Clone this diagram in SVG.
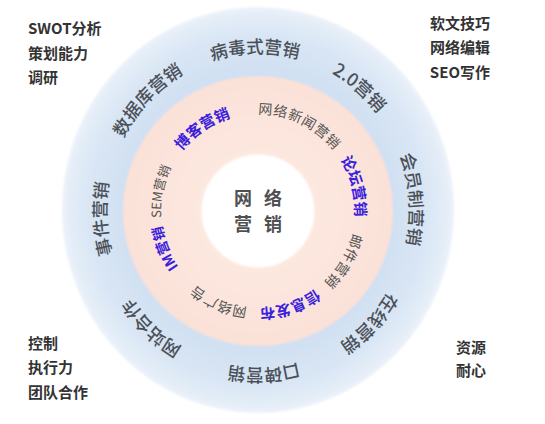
<svg xmlns="http://www.w3.org/2000/svg" width="545" height="424" viewBox="0 0 545 424">
<style>
.corner{font-family:"Noto Sans CJK SC","Liberation Sans",sans-serif;font-size:15px;font-weight:700;fill:#333;}
.outer{font-family:"Noto Sans CJK SC","Liberation Sans",sans-serif;font-size:17.5px;font-weight:500;fill:#4b5058;}
.gray{font-family:"Noto Sans CJK SC","Liberation Sans",sans-serif;font-size:14px;font-weight:400;fill:#555;letter-spacing:0.5px;}
.blue{font-family:"Noto Sans CJK SC","Liberation Sans",sans-serif;font-size:15px;font-weight:700;fill:#3a20dc;}
.center{font-family:"Noto Sans CJK SC","Liberation Sans",sans-serif;font-size:18px;font-weight:700;fill:#505050;letter-spacing:4px;}
</style>
<defs>
<radialGradient id="gBlue" cx="0.5" cy="0.5" r="0.5">
<stop offset="0.6" stop-color="#cddef1"/>
<stop offset="0.85" stop-color="#d8e5f4"/>
<stop offset="0.97" stop-color="#e5eef8"/>
<stop offset="1" stop-color="#eef3fa"/>
</radialGradient>
<radialGradient id="gPink" cx="0.5" cy="0.5" r="0.5">
<stop offset="0.4" stop-color="#fde8e0"/>
<stop offset="1" stop-color="#fbe1d8"/>
</radialGradient>
<filter id="soft" x="-10%" y="-10%" width="120%" height="120%"><feGaussianBlur stdDeviation="1.2"/></filter>
<path id="pOuter" d="M0,-151.5 A151.5,151.5 0 1 1 0,151.5 A151.5,151.5 0 1 1 0,-151.5 A151.5,151.5 0 1 1 0,151.5 A151.5,151.5 0 1 1 0,-151.5"/>
<path id="pInner" d="M0,-97 A97,97 0 1 1 0,97 A97,97 0 1 1 0,-97 A97,97 0 1 1 0,97 A97,97 0 1 1 0,-97"/>
</defs>
<rect width="545" height="424" fill="#ffffff"/>
<g id="rings">
<ellipse cx="258" cy="210" rx="196" ry="203" fill="url(#gBlue)" filter="url(#soft)"/>
<circle cx="258" cy="211" r="135" fill="url(#gPink)" filter="url(#soft)"/>
<circle cx="258" cy="211" r="56.5" fill="#ffffff" filter="url(#soft)"/>
</g>
<g id="connectors"/>
<g id="center-node">
<text class="center" x="260" y="205" text-anchor="middle">网 络</text>
<text class="center" x="260" y="230.5" text-anchor="middle">营 销</text>
</g>
<g id="outer-ring" transform="translate(258,211) scale(1,1.04)">
<g id="n-bingdu"><text class="outer" text-anchor="middle"><textPath href="#pOuter" startOffset="948.5">病毒式营销</textPath></text></g>
<g id="n-20"><text class="outer" text-anchor="middle"><textPath href="#pOuter" startOffset="1058.7">2.0营销</textPath></text></g>
<g id="n-huiyuan"><text class="outer" text-anchor="middle"><textPath href="#pOuter" startOffset="1178.3">会员制营销</textPath></text></g>
<g id="n-zaixian"><text class="outer" text-anchor="middle"><textPath href="#pOuter" startOffset="1306">在线营销</textPath></text></g>
<g id="n-koubei"><text class="outer" text-anchor="middle"><textPath href="#pOuter" startOffset="1421.5">口碑营销</textPath></text></g>
<g id="n-wangzhan"><text class="outer" text-anchor="middle"><textPath href="#pOuter" startOffset="1541.8">网站合作</textPath></text></g>
<g id="n-shijian"><text class="outer" text-anchor="middle"><textPath href="#pOuter" startOffset="1657.9">事件营销</textPath></text></g>
<g id="n-shujuku"><text class="outer" text-anchor="middle"><textPath href="#pOuter" startOffset="830">数据库营销</textPath></text></g>
</g>
<g id="inner-ring" transform="translate(258,211)">
<g id="n-xinwen"><text class="gray" text-anchor="middle"><textPath href="#pInner" startOffset="652.3">网络新闻营销</textPath></text></g>
<g id="n-luntan"><text class="blue" text-anchor="middle"><textPath href="#pInner" startOffset="736.4">论坛营销</textPath></text></g>
<g id="n-youjian"><text class="gray" text-anchor="middle"><textPath href="#pInner" startOffset="812.1">邮件营销</textPath></text></g>
<g id="n-xinxi"><text class="blue" text-anchor="middle"><textPath href="#pInner" startOffset="881.2">信息发布</textPath></text></g>
<g id="n-guanggao"><text class="gray" text-anchor="middle"><textPath href="#pInner" startOffset="952.6">网络广告</textPath></text></g>
<g id="n-im"><text class="blue" text-anchor="middle" style="font-size:14px"><textPath href="#pInner" startOffset="1028">IM营销</textPath></text></g>
<g id="n-sem"><text class="gray" text-anchor="middle" style="font-size:13px;letter-spacing:0"><textPath href="#pInner" startOffset="475.7">SEM营销</textPath></text></g>
<g id="n-boke"><text class="blue" text-anchor="middle"><textPath href="#pInner" startOffset="551">博客营销</textPath></text></g>
</g>
<g id="corner-tl">
<text class="corner" x="28" y="34">SWOT分析</text>
<text class="corner" x="28" y="58.5">策划能力</text>
<text class="corner" x="28" y="82.5">调研</text>
</g>
<g id="corner-tr">
<text class="corner" x="490" y="28.5" text-anchor="end">软文技巧</text>
<text class="corner" x="490" y="52.5" text-anchor="end">网络编辑</text>
<text class="corner" x="490" y="77.5" text-anchor="end">SEO写作</text>
</g>
<g id="corner-bl">
<text class="corner" x="28" y="348.5">控制</text>
<text class="corner" x="28" y="373">执行力</text>
<text class="corner" x="28" y="397.5">团队合作</text>
</g>
<g id="corner-br">
<text class="corner" x="456" y="352.5">资源</text>
<text class="corner" x="456" y="376">耐心</text>
</g>
</svg>
